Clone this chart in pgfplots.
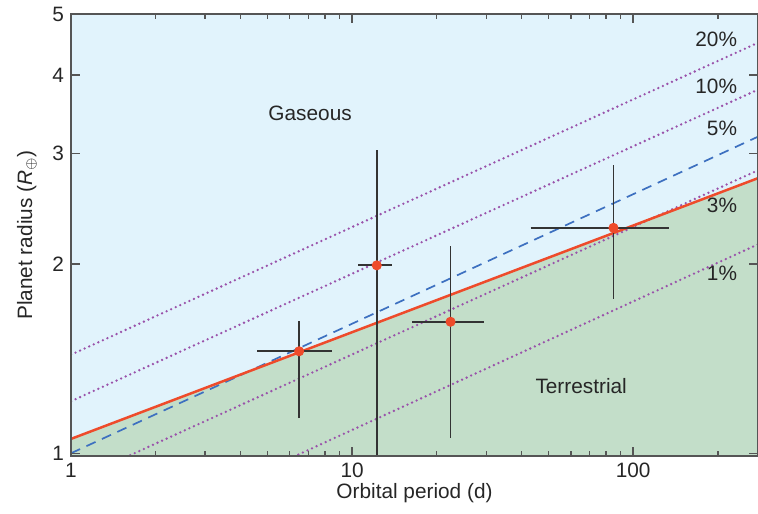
\documentclass[border=0pt]{standalone}
\usepackage{pgfplots}
\pgfplotsset{compat=1.18}
\usepackage{fontspec}
\setmainfont{Liberation Sans}
\definecolor{bgblue}{HTML}{E1F3FC}
\definecolor{terr}{HTML}{C3DEC9}
\definecolor{redl}{HTML}{EE4B2B}
\definecolor{bluel}{HTML}{3D70C0}
\definecolor{purp}{HTML}{9A52AA}
\definecolor{frame}{HTML}{555555}
\definecolor{errc}{HTML}{333333}
\begin{document}
\begin{tikzpicture}
\path[use as bounding box] (-35.5pt,-28.5pt) rectangle (343.5pt,228pt);
\begin{axis}[
  at={(0,0)}, anchor=south west,
  scale only axis, width=343.5pt, height=221pt,
  xmode=log, ymode=log,
  xmin=1, xmax=278, ymin=0.99, ymax=5,
  xtick={1,10,100}, xticklabels={1,10,100},
  minor xtick={2,3,4,5,6,7,8,9,20,30,40,50,60,70,80,90,200},
  ytick={1,2,3,4,5}, yticklabels={1,2,3,4,5},
  minor ytick={},
  major tick length=4.5pt, minor tick length=2.5pt,
  tick style={frame, line width=0.7pt},
  axis line style={frame, line width=0.75pt},
  axis background/.style={fill=bgblue},
  font=\fontsize{10.4}{12}\selectfont,
  tick label style={font=\fontsize{10.4}{12}\selectfont, text=black!85},
  /pgf/number format/assume math mode=true,
  xlabel={Orbital period (d)},
  ylabel={Planet radius (\textit{R}$_{\oplus}$)},
  xlabel style={at={(axis description cs:0.5,-0.085)}, anchor=center, text=black!85},
  ylabel style={at={(axis description cs:-0.064,0.5)}, anchor=center, text=black!85},
  clip=true,
  axis on top,
]
% terrestrial region
\addplot[draw=none, fill=terr] coordinates {(1,0.5) (1,1.054) (278,2.74) (278,0.5)} -- cycle;
% dotted lines
\addplot[purp, line width=1.3pt, dash pattern=on 0pt off 2.5pt, line cap=round] coordinates {(1,1.435) (278,4.50)};
\addplot[purp, line width=1.3pt, dash pattern=on 0pt off 2.5pt, line cap=round] coordinates {(1,1.21) (278,3.79)};
\addplot[purp, line width=1.3pt, dash pattern=on 0pt off 2.5pt, line cap=round] coordinates {(1,0.90) (278,2.82)};
\addplot[purp, line width=1.3pt, dash pattern=on 0pt off 2.5pt, line cap=round] coordinates {(1,0.68) (278,2.15)};
% dashed 5%
\addplot[bluel, line width=0.85pt, dash pattern=on 5pt off 3.5pt] coordinates {(1,1.0) (278,3.19)};
% red boundary
\addplot[redl, line width=1.25pt] coordinates {(1,1.054) (278,2.74)};
% error bars
\addplot[errc, line width=0.9pt] coordinates {(4.59,1.453) (8.49,1.453)};
\addplot[errc, line width=0.9pt] coordinates {(6.48,1.137) (6.48,1.625)};
\addplot[errc, line width=0.9pt] coordinates {(10.53,1.991) (13.91,1.991)};
\addplot[errc, line width=0.9pt] coordinates {(12.24,0.9) (12.24,3.04)};
\addplot[errc, line width=0.9pt] coordinates {(16.35,1.619) (29.5,1.619)};
\addplot[errc, line width=0.9pt] coordinates {(22.4,1.059) (22.4,2.134)};
\addplot[errc, line width=0.9pt] coordinates {(43.2,2.284) (134.3,2.284)};
\addplot[errc, line width=0.9pt] coordinates {(85.1,1.760) (85.1,2.874)};
% points
\addplot[only marks, mark=*, mark size=2.3pt, mark options={fill=redl, draw=redl}] coordinates {(6.48,1.453) (12.24,1.991) (22.4,1.619) (85.1,2.284)};
% labels
\node[text=black!85] at (axis cs:7.09,3.48) {Gaseous};
\node[text=black!85] at (axis cs:65.3,1.277) {Terrestrial};
\node[anchor=east, text=black!85] at (axis cs:248,4.55) {20\%};
\node[anchor=east, text=black!85] at (axis cs:248,3.83) {10\%};
\node[anchor=east, text=black!85] at (axis cs:248,3.29) {5\%};
\node[anchor=east, text=black!85] at (axis cs:248,2.48) {3\%};
\node[anchor=east, text=black!85] at (axis cs:248,1.936) {1\%};
\end{axis}
\end{tikzpicture}
\end{document}
